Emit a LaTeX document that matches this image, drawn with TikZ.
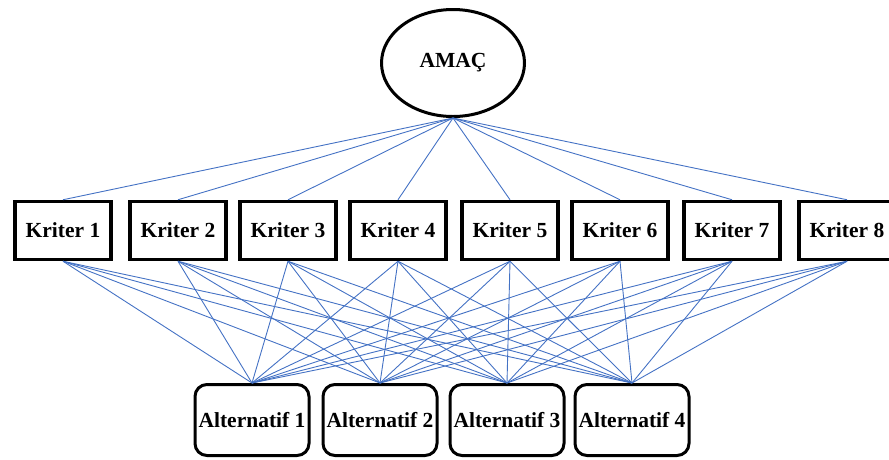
\documentclass[tikz,border=0pt]{standalone}
\usepackage{fontspec}
\setmainfont{Liberation Serif}
\usetikzlibrary{shapes.geometric}
\definecolor{linkblue}{RGB}{68,114,196}

\begin{document}
\begin{tikzpicture}[x=1pt, y=-1pt,
  every node/.style={font=\fontsize{21.5}{25}\selectfont\bfseries},
  goal/.style={draw, ellipse, line width=3pt, minimum width=143pt, minimum height=107pt, inner sep=0pt},
  kriterbox/.style={draw, line width=3.5pt, minimum width=96pt, minimum height=58pt, inner sep=0pt},
  altbox/.style={draw, rounded corners=12pt, line width=3pt, minimum width=114pt, minimum height=71pt, inner sep=0pt},
  link/.style={draw=linkblue, line width=0.9pt}]
\useasboundingbox (0,0) rectangle (889,459);

% Goal
\node[goal] (amac) at (453,63) {AMAÇ};

% Criteria
\foreach \x [count=\i] in {63,178,288,398,510,620,732,847} {
  \node[kriterbox] (k\i) at (\x,230.5) {Kriter \i};
}

% Alternatives
\foreach \x [count=\j] in {252,380,507,632} {
  \node[altbox] (a\j) at (\x,420) {Alternatif \j};
}

% Links
\foreach \i in {1,...,8} {
  \draw[link] (amac.south) -- (k\i.north);
  \foreach \j in {1,...,4} {
    \draw[link] (k\i.south) -- (a\j.north);
  }
}
\end{tikzpicture}
\end{document}
